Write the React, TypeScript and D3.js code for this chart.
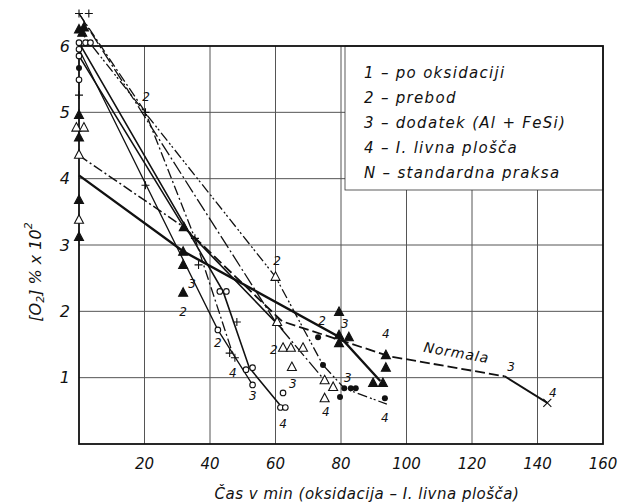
import React from 'react';
import * as d3 from 'd3';

type Pt = [number, number];

// axis ticks
const xTicks = [20, 40, 60, 80, 100, 120, 140, 160];
const yTicks = [1, 2, 3, 4, 5, 6];
const xGrid = [20, 40, 60, 80, 100, 120, 140];
const yGrid = [1, 2, 3, 4, 5];

const legendItems = [
  '1 – po oksidaciji',
  '2 – prebod',
  '3 – dodatek (Al + FeSi)',
  '4 – I. livna plošča',
  'N – standardna praksa',
];

// heat lines (time min, [O2] % x 10^2)
const heatOpenCircleA: Pt[] = [[0, 6.05], [44, 2.3], [52, 1.15], [62, 0.55]];
const heatOpenCircleB: Pt[] = [[0, 5.95], [42.4, 1.72], [53, 0.89]];
const heatPlus: Pt[] = [[0, 6.49], [20.3, 5.0], [35.4, 3.1], [47, 1.35]];
const heatOpenTriA: Pt[] = [[0, 6.49], [60, 1.84], [75, 0.96]];
const heatDotted: Pt[] = [[0, 6.25], [60, 2.52], [74.5, 1.19], [81, 0.84], [94, 0.6]];
const heatFilledTriA: Pt[] = [[0, 5.85], [32, 3.27], [62.3, 1.72]];
const heatFilledTriB: Pt[] = [[0, 4.05], [32, 2.9], [80, 1.6], [92, 0.95]];
const heatOpenTriB: Pt[] = [[0, 4.35], [32, 3.27]];
const normala: Pt[] = [[32, 3.27], [62, 1.85], [95, 1.32], [130, 1.02]];
const normalaEnd: Pt[] = [[130, 1.02], [143, 0.62]];

// markers
const plusPts: Pt[] = [[0, 6.49], [3, 6.49], [0, 5.26], [20.3, 5.0], [20.3, 3.9], [35.4, 3.1], [36.5, 2.7], [48.2, 1.84], [46, 1.37], [47.6, 1.3]];
const filledTriPts: Pt[] = [[0, 6.25], [1.5, 6.28], [1, 6.2], [0, 4.96], [0, 4.62], [0, 3.68], [0, 3.12], [32, 3.27], [31.8, 2.9], [31.8, 2.7], [31.8, 2.28], [79.4, 1.99], [79.4, 1.64], [82.4, 1.61], [79.4, 1.52], [93.7, 1.34], [93.7, 1.15], [89.8, 0.92], [92.8, 0.92]];
const openTriPts: Pt[] = [[-0.8, 4.77], [1.5, 4.77], [0, 4.36], [0, 3.38], [60, 2.52], [60.5, 1.84], [62.3, 1.45], [64.7, 1.45], [68.4, 1.45], [65, 1.16], [75, 0.96], [77.6, 0.86], [75, 0.69]];
const openCirclePts: Pt[] = [[0, 6.05], [2, 6.05], [3.5, 6.05], [0, 5.95], [0, 5.85], [0, 5.49], [43, 2.3], [45, 2.3], [42.4, 1.72], [51, 1.12], [53, 1.15], [53, 0.89], [61.5, 0.55], [63, 0.55], [62.3, 0.77]];
const filledCirclePts: Pt[] = [[0, 5.67], [73, 1.61], [74.5, 1.19], [79.7, 0.71], [93.4, 0.69], [81, 0.84], [83, 0.84], [84.5, 0.84]];
const crossPts: Pt[] = [[143, 0.62]];

// stage labels near points
const stageLabels: [string, number, number][] = [
  ['2', 20.5, 5.23], ['2', 31.8, 1.99], ['3', 34.5, 2.41], ['2', 42.4, 1.52], ['4', 47, 1.07],
  ['3', 53.1, 0.72], ['4', 62.3, 0.3], ['2', 60.5, 2.76], ['2', 59.5, 1.42], ['3', 65.3, 0.9],
  ['4', 75.4, 0.48], ['2', 74.2, 1.86], ['3', 81.2, 1.81], ['4', 93.7, 1.66], ['3', 82.1, 1.0],
  ['4', 93.4, 0.39], ['3', 131.9, 1.16], ['4', 144.7, 0.77],
];

const W = 627;
const H = 504;
const FONT = '"DejaVu Sans", sans-serif';

export default function App() {
  const x = d3.scaleLinear().domain([0, 160]).range([79, 603]);
  const y = d3.scaleLinear().domain([0, 6]).range([444, 46]);
  const line = d3.line<Pt>().x((d) => x(d[0])).y((d) => y(d[1]));

  const lines: { pts: Pt[]; dash?: string; w: number }[] = [
    { pts: heatOpenCircleA, w: 1.6 },
    { pts: heatOpenCircleB, w: 1.3 },
    { pts: heatPlus, dash: '10,3,2,3', w: 1.3 },
    { pts: heatOpenTriA, dash: '14,3,2,3', w: 1.3 },
    { pts: heatDotted, dash: '10,3,2,2,2,3', w: 1.3 },
    { pts: heatFilledTriA, w: 1.6 },
    { pts: heatFilledTriB, w: 2.4 },
    { pts: heatOpenTriB, dash: '10,3,2,3', w: 1.5 },
    { pts: normala, dash: '10,4', w: 1.8 },
    { pts: normalaEnd, w: 1.8 },
  ];

  const tri = (cx: number, cy: number, filled: boolean, key: string) => (
    <path key={key} d={`M${cx},${cy - 5} L${cx + 4.5},${cy + 3.5} L${cx - 4.5},${cy + 3.5} Z`}
      fill={filled ? '#111' : '#fff'} stroke="#111" strokeWidth={1.1} />
  );

  const normA = x(105);
  const normB = y(1.39);
  const ang = Math.atan2(y(1.02) - y(1.32), x(130) - x(95)) * 180 / Math.PI;

  return (
    <svg width={W} height={H} style={{ position: 'absolute', left: 0, top: 0, background: '#fff' }}>
      <rect width={W} height={H} fill="#fff" />
      {/* grid */}
      {xGrid.map((v) => (
        <line key={'gx' + v} x1={x(v)} x2={x(v)} y1={y(6)} y2={y(0)} stroke="#555" strokeWidth={1} />
      ))}
      {yGrid.map((v) => (
        <line key={'gy' + v} x1={x(0)} x2={x(160)} y1={y(v)} y2={y(v)} stroke="#555" strokeWidth={1} />
      ))}
      {/* legend box */}
      <rect x={345} y={y(6)} width={x(160) - 345} height={190 - y(6)} fill="#fff" stroke="#333" strokeWidth={0.8} />
      {/* frame */}
      <rect x={x(0)} y={y(6)} width={x(160) - x(0)} height={y(0) - y(6)} fill="none" stroke="#111" strokeWidth={1.8} />

      {/* lines */}
      {lines.map((l, i) => (
        <path key={'l' + i} d={line(l.pts) || ''} fill="none" stroke="#111" strokeWidth={l.w} strokeDasharray={l.dash} />
      ))}

      {/* markers */}
      {openTriPts.map((p, i) => tri(x(p[0]), y(p[1]), false, 'ot' + i))}
      {filledTriPts.map((p, i) => tri(x(p[0]), y(p[1]), true, 'ft' + i))}
      {openCirclePts.map((p, i) => (
        <circle key={'oc' + i} cx={x(p[0])} cy={y(p[1])} r={2.8} fill="#fff" stroke="#111" strokeWidth={1.1} />
      ))}
      {filledCirclePts.map((p, i) => (
        <circle key={'fc' + i} cx={x(p[0])} cy={y(p[1])} r={3} fill="#111" />
      ))}
      {plusPts.map((p, i) => (
        <path key={'pl' + i} d={`M${x(p[0]) - 4},${y(p[1])} h8 M${x(p[0])},${y(p[1]) - 4} v8`} stroke="#111" strokeWidth={1.1} />
      ))}
      {crossPts.map((p, i) => (
        <path key={'cr' + i} d={`M${x(p[0]) - 4},${y(p[1]) - 4} l8,8 M${x(p[0]) + 4},${y(p[1]) - 4} l-8,8`} stroke="#111" strokeWidth={1.1} />
      ))}

      {/* stage labels */}
      {stageLabels.map((s, i) => (
        <text key={'sl' + i} x={x(s[1])} y={y(s[2])} fontFamily={FONT} fontStyle="italic" fontSize={12}
          textAnchor="middle" dominantBaseline="central" fill="#111">{s[0]}</text>
      ))}

      {/* Normala label */}
      <text x={normA} y={normB} fontFamily={FONT} fontStyle="italic" fontSize={14} letterSpacing={1} fill="#111"
        transform={`rotate(${ang}, ${normA}, ${normB})`}>Normala</text>

      {/* legend text */}
      {legendItems.map((t, i) => (
        <text key={'lg' + i} x={364} y={73 + i * 25} fontFamily={FONT} fontStyle="italic" fontSize={15}
          letterSpacing={1.3} dominantBaseline="central" fill="#111">{t}</text>
      ))}

      {/* x ticks */}
      {xTicks.map((v) => (
        <text key={'xt' + v} x={x(v)} y={464} fontFamily={FONT} fontStyle="italic" fontSize={15}
          textAnchor="middle" dominantBaseline="central" fill="#111">{v}</text>
      ))}
      {yTicks.map((v) => (
        <text key={'yt' + v} x={70} y={y(v)} fontFamily={FONT} fontStyle="italic" fontSize={16}
          textAnchor="end" dominantBaseline="central" fill="#111">{v}</text>
      ))}

      <text x={367} y={494} fontFamily={FONT} fontStyle="italic" fontSize={15} letterSpacing={0.5} textAnchor="middle"
        dominantBaseline="central" fill="#111">Čas v min (oksidacija – I. livna plošča)</text>

      <text transform="translate(35,272) rotate(-90)" fontFamily={FONT} fontStyle="italic" fontSize={16}
        textAnchor="middle" dominantBaseline="central" fill="#111">
        [O<tspan fontSize={11} dy={5}>2</tspan><tspan dy={-5}>] % x 10</tspan><tspan fontSize={11} dy={-7}>2</tspan>
      </text>
    </svg>
  );
}
